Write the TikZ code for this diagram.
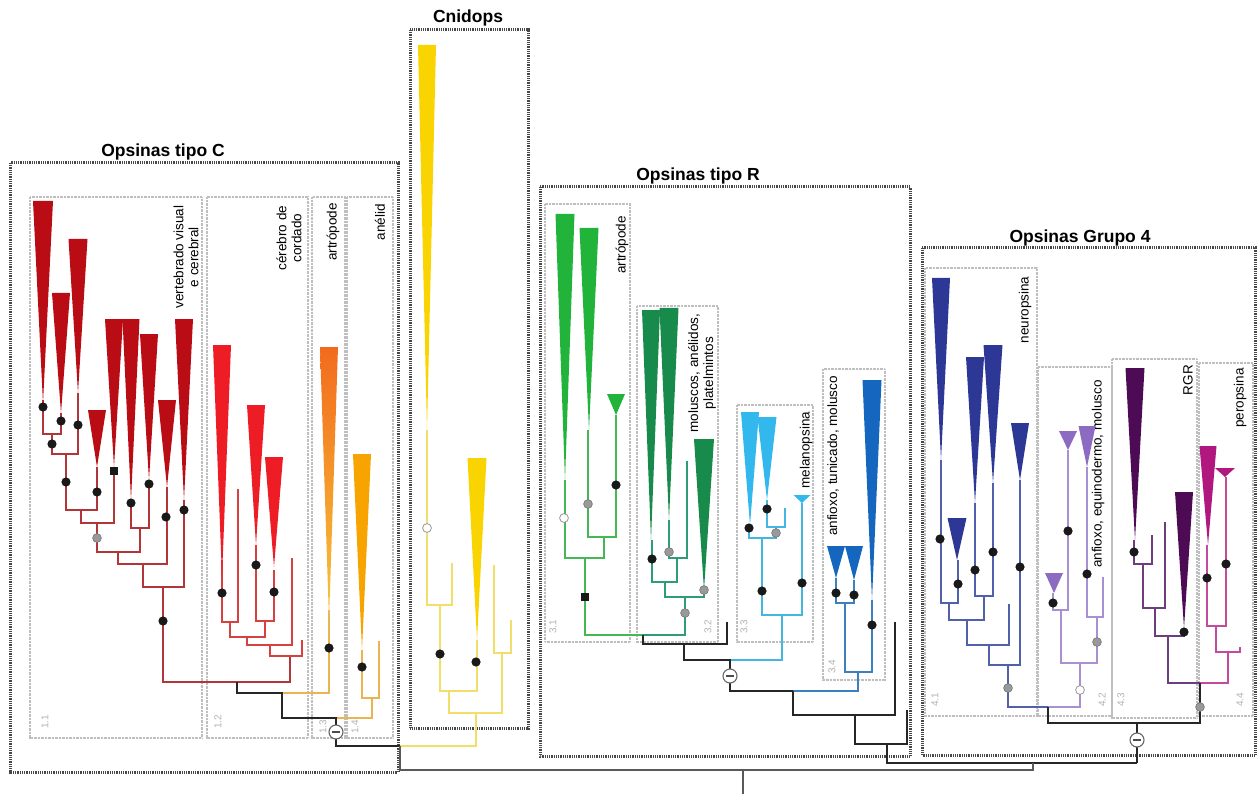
\documentclass[tikz,border=0pt]{standalone}
\usepackage{fontspec}
\setmainfont{Liberation Sans}
\newcommand{\clade}[5]{\fill[#1] (#2-#4,#3) -- (#2+#4,#3) -- (#2,#5) -- cycle;}
\newcommand{\bdot}[2]{\fill[black!90] (#1,#2) circle (4.6);}
\newcommand{\gdot}[2]{\filldraw[fill=black!40, draw=black!55, line width=0.6pt] (#1,#2) circle (4.4);}
\newcommand{\wdot}[2]{\filldraw[fill=white, draw=black!45, line width=0.7pt] (#1,#2) circle (4.4);}
\newcommand{\sqdot}[2]{\fill[black!90] (#1-4.2,#2-4.2) rectangle (#1+4.2,#2+4.2);}
\newcommand{\negmark}[2]{\filldraw[fill=white, draw=black!60, line width=1.1pt] (#1,#2) circle (7);
  \draw[line width=1.8pt, black!70] (#1-4.3,#2) -- (#1+4.3,#2);}
\tikzset{
  majorbox/.style={line width=3pt, dash pattern=on 0.9pt off 0.9pt, black!72},
  subbox/.style={line width=2pt, dash pattern=on 0.7pt off 0.7pt, black!25},
  branch/.style={line width=2pt},
  stem/.style={line width=2.6pt, black!85},
  rootline/.style={line width=1.4pt, black!65},
  rlabel/.style={rotate=90, font=\fontsize{13.5}{15}\selectfont, align=center},
  nlabel/.style={rotate=90, font=\fontsize{10}{11}\selectfont, text=black!30},
  title/.style={font=\fontsize{17.5}{19}\selectfont\bfseries}
}
\begin{document}
\begin{tikzpicture}[x=1pt, y=-1pt]
\useasboundingbox (0,0) rectangle (1258,794);
\definecolor{c11}{HTML}{BA0C14}
\definecolor{c11l}{HTML}{B0363A}
\definecolor{c12}{HTML}{EE1C25}
\definecolor{c12l}{HTML}{D6403F}
\definecolor{c13}{HTML}{F26B1D}
\definecolor{c13b}{HTML}{F7C53A}
\definecolor{c14}{HTML}{F7A400}
\definecolor{c14l}{HTML}{EBB453}
\definecolor{cny}{HTML}{FAD400}
\definecolor{cnyl}{HTML}{F2DE6A}
\definecolor{c31}{HTML}{22B33B}
\definecolor{c31l}{HTML}{45B854}
\definecolor{c32}{HTML}{178A4C}
\definecolor{c32l}{HTML}{2E9C78}
\definecolor{c33}{HTML}{33B8EE}
\definecolor{c33l}{HTML}{45B6E0}
\definecolor{c34}{HTML}{1466BE}
\definecolor{c34l}{HTML}{3C80BE}
\definecolor{c41}{HTML}{2C3796}
\definecolor{c41l}{HTML}{5060AA}
\definecolor{c42}{HTML}{8B6CC2}
\definecolor{c42l}{HTML}{A890D2}
\definecolor{c43}{HTML}{4E0B55}
\definecolor{c43l}{HTML}{6E3E7C}
\definecolor{c44}{HTML}{B0177F}
\definecolor{c44l}{HTML}{C44A9C}

% boxes
\draw[majorbox] (10,163) rectangle (398,772);
\draw[majorbox] (410,30) rectangle (528,728);
\draw[majorbox] (540,187) rectangle (910,756);
\draw[majorbox] (922,248) rectangle (1255,755);
\draw[subbox] (30,197) rectangle (202,738);
\draw[subbox] (207,197) rectangle (308,738);
\draw[subbox] (312,197) rectangle (345,738);
\draw[subbox] (347,197) rectangle (393,738);
\draw[subbox] (545,204) rectangle (630,642);
\draw[subbox] (637,306) rectangle (718,642);
\draw[subbox] (737,405) rectangle (813,642);
\draw[subbox] (823,369) rectangle (885,680);
\draw[subbox] (925,268) rectangle (1037,716);
\draw[subbox] (1038,367) rectangle (1112,716);
\draw[subbox] (1112,359) rectangle (1197,718);
\draw[subbox] (1199,363) rectangle (1253,716);

% titles and labels
\node[title] (tC) at (163,152) {Opsinas tipo C};
\node[title] (tCn) at (468,18) {Cnidops};
\node[title] (tR) at (698,176) {Opsinas tipo R};
\node[title] (tG) at (1080,238) {Opsinas Grupo 4};
\node[rlabel] (lvert) at (186,257) {vertebrado visual\\e cerebral};
\node[rlabel] (lcer) at (289,238) {cérebro de\\cordado};
\node[rlabel] (lart1) at (333,232) {artrópode};
\node[rlabel] (lanel) at (380,222) {anélid};
\node[rlabel] (lart2) at (622,245) {artrópode};
\node[rlabel] (lmol) at (702,373) {moluscos, anélidos,\\platelmintos};
\node[rlabel] (lmel) at (806,450) {melanopsina};
\node[rlabel] (lanf1) at (833,456) {anfioxo, tunicado, molusco};
\node[rlabel] (lneu) at (1025,310) {neuropsina};
\node[rlabel] (lanf2) at (1098,474) {anfioxo, equinodermo, molusco};
\node[rlabel] (lrgr) at (1188,380) {RGR};
\node[rlabel] (lper) at (1240,398) {peropsina};
\node[nlabel] (n11) at (45,722) {1.1};
\node[nlabel] (n12) at (218,722) {1.2};
\node[nlabel] (n13) at (323,727) {1.3};
\node[nlabel] (n14) at (355,727) {1.4};
\node[nlabel] (n31) at (553,627) {3.1};
\node[nlabel] (n32) at (708,627) {3.2};
\node[nlabel] (n33) at (744,627) {3.3};
\node[nlabel] (n34) at (832,667) {3.4};
\node[nlabel] (n41) at (935,700) {4.1};
\node[nlabel] (n42) at (1102,700) {4.2};
\node[nlabel] (n43) at (1121,700) {4.3};
\node[nlabel] (n44) at (1240,700) {4.4};

% opsinas tipo C
\draw[branch, c11l] (43,400) -- (43,434) -- (61,434) -- (61,413);
\draw[branch, c11l] (78,393) -- (78,454) -- (52,454) -- (52,434);
\draw[branch, c11l] (66,454) -- (66,510) -- (97,510) -- (97,467);
\draw[branch, c11l] (81,510) -- (81,523) -- (114,523) -- (114,467);
\draw[branch, c11l] (131,500) -- (131,528) -- (149,528) -- (149,480);
\draw[branch, c11l] (97,523) -- (97,552) -- (140,552) -- (140,528);
\draw[branch, c11l] (118,552) -- (118,564) -- (167,564) -- (167,487);
\draw[branch, c11l] (143,564) -- (143,587) -- (184,587) -- (184,500);
\draw[branch, c11l] (163,587) -- (163,682) -- (290,682) -- (290,656);
\draw[branch, c12l] (222,560) -- (222,622) -- (238,622) -- (238,489);
\draw[branch, c12l] (256,545) -- (256,621) -- (274,621) -- (274,570);
\draw[branch, c12l] (230,622) -- (230,637) -- (265,637) -- (265,621);
\draw[branch, c12l] (247,637) -- (247,645) -- (292,645) -- (292,558);
\draw[branch, c12l] (270,645) -- (270,656) -- (302,656) -- (302,640);
\draw[branch, c14l] (329,610) -- (329,693) -- (282,693);
\draw[branch, c14l] (362,650) -- (362,698) -- (379,698) -- (379,641);
\draw[branch, c14l] (336,718) -- (372,718) -- (372,698);
\draw[stem] (237,682) -- (237,693) -- (282,693) -- (282,718) -- (336,718) -- (336,746) -- (400,746);
\clade{c11}{43}{201}{10}{403}
\clade{c11}{61}{293}{9}{413}
\clade{c11}{78}{239}{9.5}{393}
\clade{c11}{97}{410}{9}{467}
\clade{c11}{114}{319}{9}{467}
\clade{c11}{131}{319}{8.5}{500}
\clade{c11}{149}{334}{9}{480}
\clade{c11}{167}{400}{9}{487}
\clade{c11}{184}{319}{9}{500}
\clade{c12}{222}{345}{9}{577}
\clade{c12}{256}{405}{9}{545}
\clade{c12}{274}{457}{9}{567}
\shade[top color=c13, bottom color=c13b] (320,347) -- (338,347) -- (329,620) -- cycle;
\clade{c14}{362}{454}{9}{650}
\bdot{43}{407} \bdot{61}{421} \bdot{78}{425} \bdot{52}{444}
\bdot{66}{482} \bdot{97}{492} \sqdot{114}{471} \bdot{131}{503}
\bdot{149}{484} \gdot{97}{538} \bdot{166}{517} \bdot{184}{510}
\bdot{163}{621} \bdot{222}{593} \bdot{256}{565} \bdot{274}{592}
\bdot{329}{648} \bdot{362}{667}
\negmark{336}{732}

% cnidops
\draw[branch, cnyl] (427,430) -- (427,605) -- (452,605) -- (452,563);
\draw[branch, cnyl] (440,605) -- (440,691) -- (477,691) -- (477,640);
\draw[branch, cnyl] (494,565) -- (494,653) -- (511,653) -- (511,620);
\draw[branch, cnyl] (502,653) -- (502,713) -- (449,713) -- (449,691);
\draw[branch, cnyl] (476,713) -- (476,746) -- (400,746);
\clade{cny}{427}{45}{9}{430}
\clade{cny}{477}{458}{9.5}{640}
\wdot{427}{528} \bdot{440}{654} \bdot{476}{662}

% opsinas tipo R
\draw[branch, c31l] (565,480) -- (565,558) -- (604,558) -- (604,537);
\draw[branch, c31l] (588,430) -- (588,537) -- (616,537) -- (616,415);
\draw[branch, c31l] (585,558) -- (585,635) -- (643,635);
\draw[branch, c32l] (652,540) -- (652,582) -- (677,582) -- (677,558);
\draw[branch, c32l] (669,520) -- (669,558) -- (687,558) -- (687,461);
\draw[branch, c32l] (665,582) -- (665,597) -- (704,597) -- (704,590);
\draw[branch, c32l] (685,597) -- (685,635) -- (643,635);
\draw[branch, c33l] (767,500) -- (767,527) -- (785,527) -- (785,508);
\draw[branch, c33l] (749,525) -- (749,538) -- (776,538) -- (776,527);
\draw[branch, c33l] (762,538) -- (762,615) -- (802,615) -- (802,503);
\draw[branch, c33l] (782,615) -- (782,660) -- (730,660);
\draw[branch, c34l] (836,578) -- (836,603) -- (854,603) -- (854,580);
\draw[branch, c34l] (845,603) -- (845,672) -- (872,672) -- (872,600);
\draw[branch, c34l] (858,672) -- (858,691) -- (793,691);
\draw[stem] (643,635) -- (643,644) -- (727,644) -- (727,622);
\draw[stem] (684,644) -- (684,660) -- (730,660) -- (730,691) -- (793,691);
\draw[stem] (793,691) -- (793,715) -- (895,715) -- (895,622);
\draw[stem] (855,715) -- (855,744) -- (907,744) -- (907,710);
\draw[stem] (887,744) -- (887,763) -- (1137,763);
\clade{c31}{565}{214}{9.5}{480}
\clade{c31}{589}{228}{9.5}{430}
\clade{c31}{616}{394}{9}{415}
\clade{c32}{651}{310}{9}{540}
\clade{c32}{669}{308}{9.5}{520}
\clade{c32}{704}{439}{10}{590}
\clade{c33}{750}{412}{9}{525}
\clade{c33}{767}{417}{9.5}{500}
\clade{c33}{802}{495}{8.5}{503}
\clade{c34}{836}{546}{9}{578}
\clade{c34}{854}{546}{9}{580}
\clade{c34}{872}{380}{9.5}{600}
\wdot{564}{518} \gdot{588}{504} \bdot{616}{485} \sqdot{585}{597}
\bdot{652}{559} \gdot{669}{552} \gdot{704}{590} \gdot{685}{613}
\bdot{749}{528} \bdot{767}{509} \gdot{776}{533} \bdot{762}{591}
\bdot{802}{583} \bdot{836}{593} \bdot{854}{595} \bdot{872}{625}
\negmark{730}{676}

% opsinas grupo 4
\draw[branch, c41l] (941,460) -- (941,603) -- (958,603) -- (958,560);
\draw[branch, c41l] (975,503) -- (975,596) -- (993,596) -- (993,483);
\draw[branch, c41l] (949,603) -- (949,620) -- (984,620) -- (984,596);
\draw[branch, c41l] (967,620) -- (967,645) -- (1009,645) -- (1009,604);
\draw[branch, c41l] (989,645) -- (989,665) -- (1020,665) -- (1020,480);
\draw[branch, c41l] (1008,665) -- (1008,707) -- (1048,707);
\draw[branch, c42l] (1053,593) -- (1053,610) -- (1068,610) -- (1068,450);
\draw[branch, c42l] (1087,467) -- (1087,617) -- (1103,617) -- (1103,577);
\draw[branch, c42l] (1061,610) -- (1061,663) -- (1097,663) -- (1097,617);
\draw[branch, c42l] (1080,663) -- (1080,707) -- (1048,707);
\draw[branch, c43l] (1134,540) -- (1134,564) -- (1152,564) -- (1152,535);
\draw[branch, c43l] (1143,564) -- (1143,608) -- (1165,608) -- (1165,522);
\draw[branch, c43l] (1155,608) -- (1155,636) -- (1184,636) -- (1184,628);
\draw[branch, c43l] (1168,636) -- (1168,683) -- (1200,683);
\draw[branch, c44l] (1207,545) -- (1207,626) -- (1226,626) -- (1226,477);
\draw[branch, c44l] (1216,626) -- (1216,652) -- (1240,652) -- (1240,647);
\draw[branch, c44l] (1228,652) -- (1228,683) -- (1200,683);
\draw[stem] (1048,707) -- (1048,723) -- (1200,723) -- (1200,683);
\draw[stem] (1137,723) -- (1137,763);
\clade{c41}{941}{278}{9}{460}
\clade{c41}{957}{518}{9.5}{560}
\clade{c41}{975}{357}{9}{503}
\clade{c41}{993}{345}{9.5}{483}
\clade{c41}{1020}{423}{9}{480}
\clade{c42}{1054}{573}{9}{593}
\clade{c42}{1068}{431}{9}{450}
\clade{c42}{1087}{426}{8.5}{467}
\clade{c43}{1135}{368}{9.5}{540}
\clade{c43}{1184}{492}{9}{628}
\clade{c44}{1208}{446}{8.5}{545}
\clade{c44}{1225}{468}{10}{477}
\bdot{940}{539} \bdot{958}{584} \bdot{975}{570} \bdot{993}{552}
\bdot{1020}{567} \gdot{1008}{688} \bdot{1053}{603} \bdot{1068}{531}
\bdot{1087}{574} \gdot{1097}{642} \wdot{1080}{690} \bdot{1134}{552}
\bdot{1184}{632} \bdot{1207}{578} \bdot{1226}{564} \gdot{1200}{707}
\negmark{1137}{740}

% root
\draw[rootline] (400,746) -- (400,770) -- (1033,770) -- (1033,763);
\draw[rootline] (743,770) -- (743,794);
\end{tikzpicture}
\end{document}
